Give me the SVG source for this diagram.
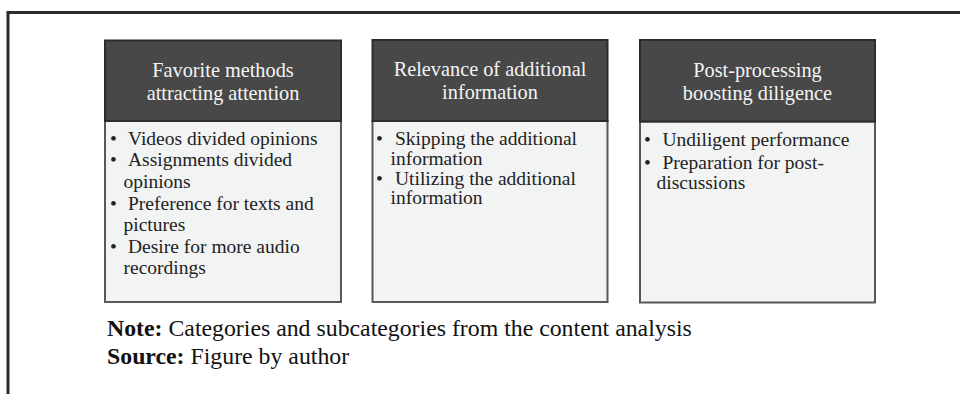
<svg xmlns="http://www.w3.org/2000/svg" width="960" height="394" viewBox="0 0 960 394">
  <style>
    .frame { stroke: #2a2a2a; stroke-width: 3; fill: none; }
    .head { fill: #484848; stroke: #2c2c2c; stroke-width: 2; }
    .body { fill: #f2f3f3; stroke: #585858; stroke-width: 2; }
    .htxt { font-family: "Liberation Serif", "Times New Roman", serif; font-size: 20.3px; fill: #f4f4f4; text-anchor: middle; }
    .btxt { font-family: "Liberation Serif", "Times New Roman", serif; font-size: 19.5px; fill: #222; }
    .note { font-family: "Liberation Serif", "Times New Roman", serif; font-size: 23.8px; fill: #111; }
    .b { font-weight: bold; }
  </style>
  <rect width="960" height="394" fill="#ffffff"/>

  <!-- outer frame: top rule and left rule -->
  <path class="frame" d="M 8 394 L 8 12.5 L 960 12.5"/>

  <!-- category 1 -->
  <g id="node-favorite-methods">
    <rect class="body" x="105" y="121" width="236" height="181"/>
    <rect class="head" x="105" y="40.5" width="236" height="80.5"/>
    <text class="htxt" x="223" y="76.5">Favorite methods</text>
    <text class="htxt" x="223" y="99.5">attracting attention</text>
    <text class="btxt" x="110" y="145">•<tspan x="128">Videos divided opinions</tspan></text>
    <text class="btxt" x="110" y="166">•<tspan x="128">Assignments divided</tspan></text>
    <text class="btxt" x="123.5" y="187.5">opinions</text>
    <text class="btxt" x="110" y="210">•<tspan x="128">Preference for texts and</tspan></text>
    <text class="btxt" x="123.5" y="231">pictures</text>
    <text class="btxt" x="110" y="253">•<tspan x="128">Desire for more audio</tspan></text>
    <text class="btxt" x="123.5" y="274">recordings</text>
  </g>

  <!-- category 2 -->
  <g id="node-relevance">
    <rect class="body" x="372.5" y="121" width="235" height="181"/>
    <rect class="head" x="372.5" y="40" width="235" height="81"/>
    <text class="htxt" x="490" y="76">Relevance of additional</text>
    <text class="htxt" x="490" y="99">information</text>
    <text class="btxt" x="376" y="145">•<tspan x="395">Skipping the additional</tspan></text>
    <text class="btxt" x="390.5" y="165">information</text>
    <text class="btxt" x="376" y="184.5">•<tspan x="395">Utilizing the additional</tspan></text>
    <text class="btxt" x="390.5" y="204">information</text>
  </g>

  <!-- category 3 -->
  <g id="node-post-processing">
    <rect class="body" x="640" y="121.5" width="235" height="181"/>
    <rect class="head" x="640" y="40" width="235" height="81.5"/>
    <text class="htxt" x="757.5" y="76.5">Post-processing</text>
    <text class="htxt" x="757.5" y="99.5">boosting diligence</text>
    <text class="btxt" x="644" y="146">•<tspan x="662.5">Undiligent performance</tspan></text>
    <text class="btxt" x="644" y="168.5">•<tspan x="662.5">Preparation for post-</tspan></text>
    <text class="btxt" x="656.5" y="189">discussions</text>
  </g>

  <!-- no connectors between the categories -->
  <g id="connectors"></g>

  <!-- caption -->
  <text class="note" x="107" y="335.5"><tspan class="b">Note:</tspan> Categories and subcategories from the content analysis</text>
  <text class="note" x="107" y="363.5"><tspan class="b">Source:</tspan> Figure by author</text>
</svg>
